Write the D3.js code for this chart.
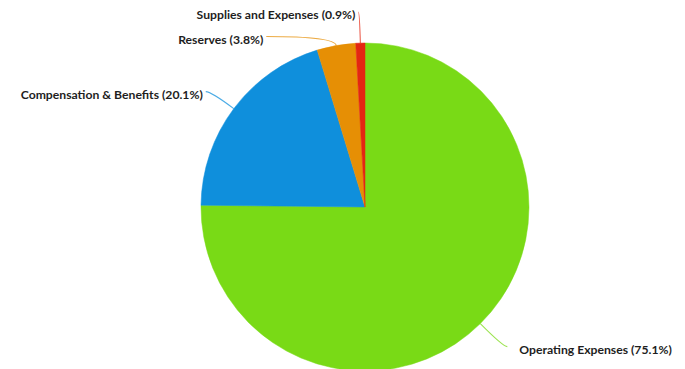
<!DOCTYPE html>
<html>
<head>
<meta charset="utf-8">
<script src="https://cdn.jsdelivr.net/npm/d3@7"></script>
<style>
  html, body { margin: 0; padding: 0; background: #fff; }
  svg { display: block; }
</style>
</head>
<body>
<svg id="chart" width="685" height="369"></svg>
<script>
// Budget breakdown, share of total in percent
const categories = ["Operating Expenses", "Compensation & Benefits", "Reserves", "Supplies and Expenses"];
const shares = [75.1, 20.1, 3.8, 0.9];
const colors = ["#79da16", "#0f8fdc", "#e68f05", "#e42612"];

// Label end-point offsets from the slice edge (layout only)
const labelOffsets = [[27, 23], [-28, -17], [-70, -9], [-2, -31]];

const width = 685, height = 369;
const cx = 365, cy = 207, radius = 164;

const svg = d3.select("#chart");
const g = svg.append("g").attr("transform", `translate(${cx},${cy})`);

const data = categories.map((c, i) => ({ name: c, value: shares[i], color: colors[i], off: labelOffsets[i] }));

const pie = d3.pie().sort(null).value(d => d.value).startAngle(0).endAngle(2 * Math.PI);
const arcs = pie(data);
const arc = d3.arc().innerRadius(0).outerRadius(radius);

g.selectAll("path.slice")
  .data(arcs)
  .join("path")
  .attr("class", "slice")
  .attr("d", arc)
  .attr("fill", d => d.data.color)
  .attr("stroke", d => d.data.color)
  .attr("stroke-width", 0.5);

// Connector lines and labels
arcs.forEach(a => {
  const mid = (a.startAngle + a.endAngle) / 2;
  const ux = Math.sin(mid), uy = -Math.cos(mid);
  const ex = ux * radius, ey = uy * radius;
  const lx = ex + a.data.off[0], ly = ey + a.data.off[1];
  const k = (ly - ey) / uy;
  const qx = ex + ux * k, qy = ly;
  const p = d3.path();
  p.moveTo(ex, ey);
  p.quadraticCurveTo(qx, qy, lx, ly);
  g.append("path")
    .attr("d", p.toString())
    .attr("fill", "none")
    .attr("stroke", a.data.color)
    .attr("stroke-opacity", 0.75)
    .attr("stroke-width", 1.1);

  const right = lx > 0;
  g.append("text")
    .attr("x", right ? lx + 12 : lx - 3)
    .attr("y", ly + 2.5)
    .attr("text-anchor", right ? "start" : "end")
    .attr("dominant-baseline", "central")
    .attr("font-family", "Lato, 'Open Sans', sans-serif")
    .attr("font-weight", 700)
    .attr("font-size", "12.2px")
    .attr("fill", "#1e1e1e")
    .text(`${a.data.name} (${a.data.value}%)`);
});
</script>
</body>
</html>
